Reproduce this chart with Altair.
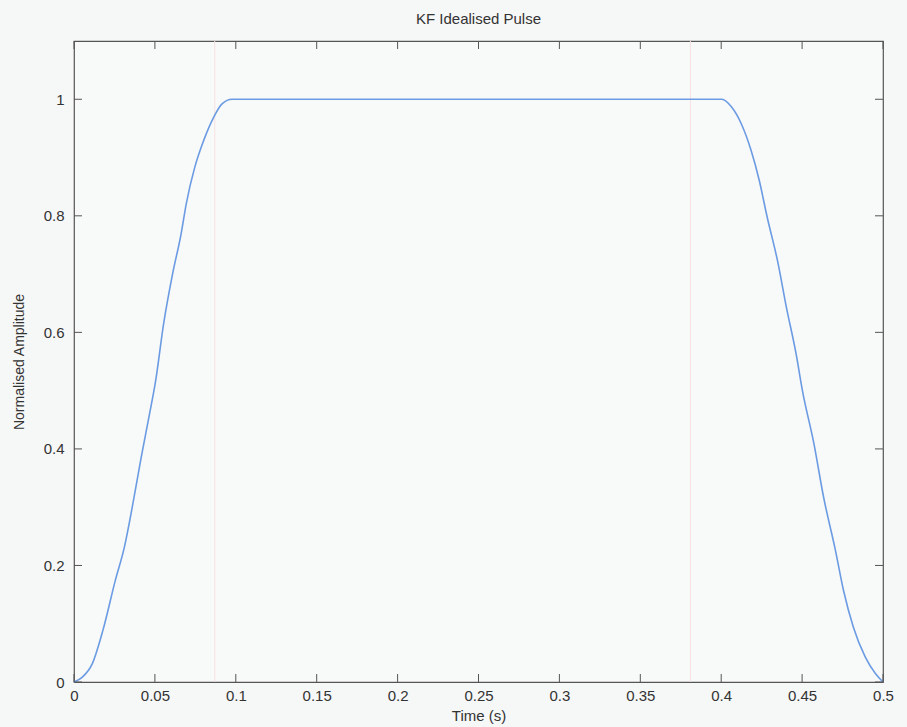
import altair as alt
import pandas as pd

# Rising edge
rise_t = [0, 0.005, 0.0114, 0.0179, 0.0255, 0.0311, 0.036, 0.0415, 0.0466, 0.0504,
          0.0554, 0.0609, 0.0662, 0.0694, 0.0747, 0.0801, 0.0863, 0.0915, 0.0977]
rise_v = [0, 0.008, 0.032, 0.089, 0.174, 0.231, 0.30, 0.385, 0.459, 0.516,
          0.615, 0.70, 0.769, 0.821, 0.884, 0.929, 0.969, 0.992, 1.0]
# Falling edge
fall_t = [0.4004, 0.4063, 0.4124, 0.4185, 0.4235, 0.4284, 0.4348, 0.4403, 0.4463,
          0.4502, 0.4573, 0.4633, 0.4706, 0.4756, 0.4817, 0.4890, 0.4954, 0.5]
fall_v = [1.0, 0.987, 0.958, 0.912, 0.861, 0.798, 0.723, 0.643, 0.563,
          0.500, 0.409, 0.317, 0.226, 0.157, 0.094, 0.043, 0.014, 0]

# faint vertical marker lines
marker_t = [0.087, 0.381]

x_ticks = [0, 0.05, 0.1, 0.15, 0.2, 0.25, 0.3, 0.35, 0.4, 0.45, 0.5]
y_ticks = [0, 0.2, 0.4, 0.6, 0.8, 1.0]

W, H = 809, 641
FONT = "Liberation Sans"
AX = "#555555"

pulse = pd.DataFrame({"t": rise_t + fall_t, "v": rise_v + fall_v})
xt = pd.DataFrame({"t": x_ticks})
yt = pd.DataFrame({"v": y_ticks})
mk = pd.DataFrame({"t": marker_t})

xscale = alt.Scale(domain=[0, 0.5], nice=False, zero=False)
yscale = alt.Scale(domain=[0, 1.1], nice=False, zero=False)

xaxis = alt.Axis(values=x_ticks, format=".2~f", title="Time (s)", ticks=False, grid=False,
                 domain=False, labelFont=FONT, labelFontSize=15, labelColor="#333333",
                 labelPadding=6, titleFont=FONT, titleFontSize=15, titleFontWeight="normal",
                 titleColor="#333333", titlePadding=5, labelFlush=False)
yaxis = alt.Axis(values=y_ticks, format=".1~f", title="Normalised Amplitude", ticks=False,
                 grid=False, domain=False, labelFont=FONT, labelFontSize=15,
                 labelColor="#333333", labelPadding=10, titleFont=FONT, titleFontSize=14,
                 titleFontWeight="normal", titleColor="#333333", titlePadding=17,
                 labelFlush=False)

markers = alt.Chart(mk).mark_rule(color="#f6e0e2", strokeWidth=1).encode(
    x=alt.X("t:Q", scale=xscale, axis=xaxis),
    y=alt.value(0), y2=alt.value(H))

line = alt.Chart(pulse).mark_line(color="#6b9be2", strokeWidth=1.6,
                                  interpolate="monotone").encode(
    x=alt.X("t:Q", scale=xscale, axis=xaxis),
    y=alt.Y("v:Q", scale=yscale, axis=yaxis))

tb = alt.Chart(xt).mark_rule(color=AX, strokeWidth=1).encode(
    x=alt.X("t:Q", scale=xscale), y=alt.value(H), y2=alt.value(H - 8))
tt = alt.Chart(xt).mark_rule(color=AX, strokeWidth=1).encode(
    x=alt.X("t:Q", scale=xscale), y=alt.value(0), y2=alt.value(8))
tl = alt.Chart(yt).mark_rule(color=AX, strokeWidth=1).encode(
    y=alt.Y("v:Q", scale=yscale), x=alt.value(0), x2=alt.value(8))
tr = alt.Chart(yt).mark_rule(color=AX, strokeWidth=1).encode(
    y=alt.Y("v:Q", scale=yscale), x=alt.value(W), x2=alt.value(W - 8))

chart = alt.layer(markers, line, tb, tt, tl, tr).properties(
    width=W, height=H,
    autosize=alt.AutoSizeParams(type="none"),
    padding={"left": 74, "top": 41, "right": 24, "bottom": 45},
    background="#f6f7f7",
    title=alt.TitleParams("KF Idealised Pulse", font=FONT, fontSize=15, fontWeight="normal",
                          color="#333333", anchor="middle", offset=14),
).configure_view(stroke=AX, strokeWidth=1.2, fill="#f8f9f9")

chart.save("out.html", embed_options={"renderer": "svg", "actions": False})
